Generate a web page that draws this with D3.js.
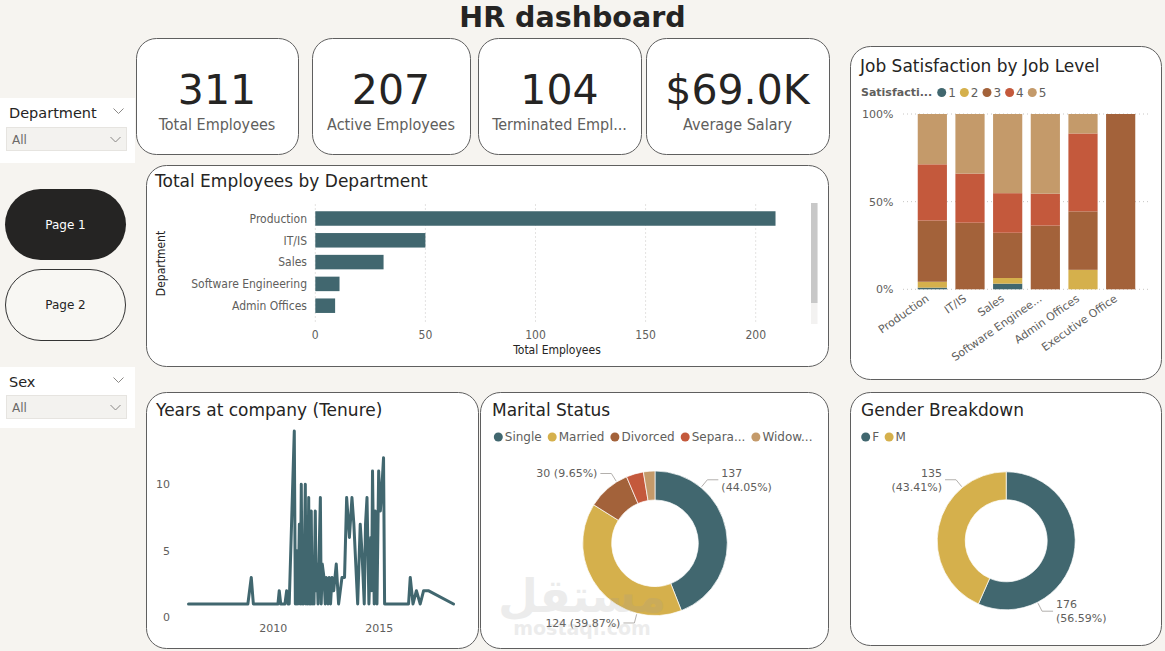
<!DOCTYPE html>
<html>
<head>
<meta charset="utf-8">
<script src="https://cdn.jsdelivr.net/npm/d3@7"></script>
<style>
  html, body { margin: 0; padding: 0; background: #f6f4f0; }
  svg { display: block; }
  text { font-family: "DejaVu Sans", Verdana, sans-serif; }
</style>
</head>
<body>
<svg id="dash" width="1165" height="651"></svg>
<script>
// ---------- data ----------
var kpiValues = [311, 207, 104, 69000];
var kpiLabels = ["Total Employees", "Active Employees", "Terminated Employees", "Average Salary"];

var departments = ["Production", "IT/IS", "Sales", "Software Engineering", "Admin Offices", "Executive Office"];
var deptCounts = [209, 50, 31, 11, 9, 1];

var satisfactionLevels = ["1", "2", "3", "4", "5"];
// employees per satisfaction level, one row per department
var satByDept = [
  [2, 7, 73, 67, 60],
  [0, 0, 19, 14, 17],
  [1, 1, 8, 7, 14],
  [0, 0, 4, 2, 5],
  [0, 1, 3, 4, 1],
  [0, 0, 1, 0, 0]
];

var hireYear = [
  2006.00, 2008.80, 2008.96, 2009.06, 2010.22, 2010.28, 2010.35, 2010.55, 2010.63, 2010.70,
  2010.75, 2010.99, 2011.04, 2011.08, 2011.10, 2011.12, 2011.16, 2011.20, 2011.23, 2011.27,
  2011.30, 2011.32, 2011.36, 2011.39, 2011.42, 2011.46, 2011.51, 2011.54, 2011.56, 2011.59,
  2011.62, 2011.67, 2011.70, 2011.73, 2011.76, 2011.79, 2011.83, 2011.87, 2011.92, 2011.98,
  2012.02, 2012.06, 2012.11, 2012.22, 2012.26, 2012.31, 2012.39, 2012.45, 2012.50, 2012.58,
  2012.64, 2012.70, 2012.77, 2012.85, 2012.97, 2013.08, 2013.24, 2013.36, 2013.46, 2013.59,
  2013.71, 2013.80, 2013.98, 2014.10, 2014.18, 2014.29, 2014.35, 2014.42, 2014.51, 2014.60,
  2014.64, 2014.68, 2014.76, 2014.81, 2014.85, 2014.89, 2014.97, 2015.05, 2015.13, 2015.20,
  2015.25, 2016.38, 2016.46, 2016.59, 2016.75, 2016.93, 2017.09, 2017.31, 2018.50
];
var tenure = [
  1, 1, 3, 1, 1, 2, 1, 1, 2, 1,
  1, 14, 1, 4, 1, 5, 1, 4, 7, 1,
  6, 10, 1, 5, 1, 4, 10, 1, 3, 4,
  1, 9, 1, 2, 1, 8, 1, 2, 1, 8,
  2, 4, 1, 9, 1, 4, 3, 1, 3, 1,
  3, 1, 3, 2, 4, 1, 3, 3, 9, 6,
  9, 7, 1, 7, 5, 1, 7, 9, 1, 6,
  2, 11, 1, 8, 3, 1, 11, 8, 10, 12,
  1, 1, 3, 1, 2, 1, 2, 2, 1
];

var maritalStatus = ["Single", "Married", "Divorced", "Separated", "Widowed"];
var maritalCounts = [137, 124, 30, 12, 8];

var genders = ["F", "M"];
var genderCounts = [176, 135];

// ---------- look ----------
var teal = "#41676f", gold = "#d5b04c", brown = "#a3623a", red = "#c4593c", tan = "#c49a6a";
var dark = "#252423", grey = "#605e5c", gridC = "#c8c6c4", border = "#5f5f5f";
var COND = "'DejaVu Sans Condensed', 'DejaVu Sans', sans-serif";
var palette = [teal, gold, brown, red, tan];

var svg = d3.select("#dash");

function card(x, y, w, h, r) {
  svg.append("rect")
    .attr("x", x + 0.5).attr("y", y + 0.5)
    .attr("width", w).attr("height", h)
    .attr("rx", r).attr("ry", r)
    .attr("fill", "#fff").attr("stroke", border);
}

function title(x, y, t) {
  svg.append("text").attr("x", x).attr("y", y).attr("dy", "0.36em")
    .attr("font-size", 17).attr("fill", dark).text(t);
}

// cut a label down with "..." until it fits
function fitText(node, maxW) {
  var s = node.textContent;
  if (node.getComputedTextLength() <= maxW) return;
  while (s.length > 1) {
    s = s.slice(0, -1);
    node.textContent = s + "...";
    if (node.getComputedTextLength() <= maxW) break;
  }
}

function chevron(x, y) {
  svg.append("path")
    .attr("d", "M" + (x - 5) + "," + (y - 2.5) + "L" + x + "," + (y + 2.5) + "L" + (x + 5) + "," + (y - 2.5))
    .attr("fill", "none").attr("stroke", "#8a8886").attr("stroke-width", 1);
}

// legend row: dots + labels, laid out left to right
function legend(x, y, names, colors, gap, maxW) {
  var cx = x;
  names.forEach(function (n, i) {
    svg.append("circle").attr("cx", cx).attr("cy", y).attr("r", 4.5).attr("fill", colors[i]);
    var t = svg.append("text").attr("x", cx + 6.5).attr("y", y).attr("dy", "0.36em")
      .attr("font-size", 12).attr("fill", grey).text(n);
    if (maxW) fitText(t.node(), maxW);
    cx = cx + 6.5 + t.node().getComputedTextLength() + gap;
  });
}

// ---------- header ----------
svg.append("text").attr("x", 572.5).attr("y", 17).attr("dy", "0.36em")
  .attr("text-anchor", "middle").attr("font-size", 28.5).attr("font-weight", "bold")
  .attr("fill", dark).text("HR dashboard");

// ---------- slicers + page buttons ----------
function slicer(y, h, label, boxY) {
  svg.append("rect").attr("x", 0).attr("y", y).attr("width", 135).attr("height", h).attr("fill", "#fff");
  svg.append("text").attr("x", 9).attr("y", y + 15).attr("dy", "0.36em")
    .attr("font-size", 14.5).attr("fill", dark).text(label);
  chevron(118.5, y + 13);
  svg.append("rect").attr("x", 6.5).attr("y", boxY + 0.5).attr("width", 120).attr("height", 23)
    .attr("fill", "#f3f2ef").attr("stroke", "#e6e4e0");
  svg.append("text").attr("x", 12).attr("y", boxY + 12.5).attr("dy", "0.36em")
    .attr("font-size", 12).attr("fill", "#6b6a68").text("All");
  chevron(115.5, boxY + 12.5);
}
slicer(98, 65, "Department", 127);
slicer(367, 61, "Sex", 395);

svg.append("rect").attr("x", 5).attr("y", 189).attr("width", 121).attr("height", 71)
  .attr("rx", 35.5).attr("fill", dark);
svg.append("text").attr("x", 65.5).attr("y", 225).attr("dy", "0.36em").attr("text-anchor", "middle")
  .attr("font-size", 12).attr("fill", "#fff").text("Page 1");
svg.append("rect").attr("x", 5.5).attr("y", 269.5).attr("width", 120).attr("height", 71)
  .attr("rx", 35.5).attr("fill", "#f8f7f3").attr("stroke", "#333");
svg.append("text").attr("x", 65.5).attr("y", 305).attr("dy", "0.36em").attr("text-anchor", "middle")
  .attr("font-size", 12).attr("fill", dark).text("Page 2");

// ---------- KPI cards ----------
var kpiBoxes = [[136, 38, 162], [312, 38, 158], [478, 38, 163], [646, 38, 183]];
var kpiFormat = [d3.format("d"), d3.format("d"), d3.format("d"),
  function (v) { return "$" + (v / 1000).toFixed(1) + "K"; }];
kpiBoxes.forEach(function (b, i) {
  card(b[0], b[1], b[2], 116, 20);
  svg.append("text").attr("x", b[0] + b[2] / 2).attr("y", 104)
    .attr("text-anchor", "middle").attr("font-size", 41).attr("fill", dark)
    .text(kpiFormat[i](kpiValues[i]));
  var lab = svg.append("text").attr("x", b[0] + b[2] / 2).attr("y", 130)
    .attr("text-anchor", "middle").attr("font-size", 16).attr("fill", grey)
    .style("font-family", COND).text(kpiLabels[i]);
  fitText(lab.node(), b[2] - 24);
});

// ---------- Total Employees by Department ----------
card(146, 165, 682, 201, 20);
title(155, 181, "Total Employees by Department");

var bx = d3.scaleLinear().domain([0, 200]).range([315.3, 755.7]);
var by = d3.scaleBand().domain(departments)
  .range([207.6, 207.6 + 21.8 * departments.length])
  .paddingInner(0.335).paddingOuter(0.1675);

svg.append("clipPath").attr("id", "barClip")
  .append("rect").attr("x", 146).attr("y", 200).attr("width", 660).attr("height", 118);

var barG = svg.append("g");
barG.selectAll("line.grid").data(bx.ticks(4)).enter().append("line")
  .attr("x1", function (d) { return bx(d); }).attr("x2", function (d) { return bx(d); })
  .attr("y1", 204.5).attr("y2", 321.5)
  .attr("stroke", gridC).attr("stroke-dasharray", "1,3");
barG.selectAll("text.tick").data(bx.ticks(4)).enter().append("text")
  .attr("x", function (d) { return bx(d); }).attr("y", 334.5).attr("dy", "0.36em")
  .attr("text-anchor", "middle").attr("font-size", 12).attr("fill", grey)
  .style("font-family", COND).text(function (d) { return d; });

var barClipG = svg.append("g").attr("clip-path", "url(#barClip)");
barClipG.selectAll("rect").data(departments).enter().append("rect")
  .attr("x", bx(0)).attr("y", function (d) { return by(d); })
  .attr("width", function (d, i) { return bx(deptCounts[i]) - bx(0); })
  .attr("height", by.bandwidth()).attr("fill", teal);
barClipG.selectAll("text").data(departments).enter().append("text")
  .attr("x", 307).attr("y", function (d) { return by(d) + by.bandwidth() / 2; }).attr("dy", "0.36em")
  .attr("text-anchor", "end").attr("font-size", 12).attr("fill", grey)
  .style("font-family", COND).text(function (d) { return d; });

svg.append("text").attr("x", 557).attr("y", 349.5).attr("dy", "0.36em")
  .attr("text-anchor", "middle").attr("font-size", 12).attr("fill", dark)
  .style("font-family", COND).text("Total Employees");
svg.append("text").attr("transform", "translate(160.5,263.5) rotate(-90)").attr("dy", "0.36em")
  .attr("text-anchor", "middle").attr("font-size", 12).attr("fill", dark)
  .style("font-family", COND).text("Department");

// scroll bar
svg.append("rect").attr("x", 811).attr("y", 203).attr("width", 6.5).attr("height", 121).attr("fill", "#f3f2f1");
svg.append("rect").attr("x", 811).attr("y", 203).attr("width", 6.5).attr("height", 100).attr("fill", "#c8c8c8");

// ---------- Job Satisfaction by Job Level ----------
card(850, 46, 1161 - 850, 333, 20);
title(860, 65.5, "Job Satisfaction by Job Level");

var lt = svg.append("text").attr("x", 861).attr("y", 92.5).attr("dy", "0.36em")
  .attr("font-size", 11).attr("font-weight", "bold").attr("fill", grey).text("Satisfaction");
fitText(lt.node(), 72.5);
legend(941.7, 92.5, satisfactionLevels, palette, 8.5);

var jx = d3.scaleBand().domain(departments).range([913.5, 1139.5])
  .paddingInner(0.225).paddingOuter(0.1125);
var jy = d3.scaleLinear().domain([0, 1]).range([289.3, 114]);

svg.selectAll("line.jgrid").data([0, 0.5, 1]).enter().append("line")
  .attr("x1", 903).attr("x2", 1150)
  .attr("y1", function (d) { return jy(d); }).attr("y2", function (d) { return jy(d); })
  .attr("stroke", gridC).attr("stroke-dasharray", "1,3");
svg.selectAll("text.jtick").data([0, 0.5, 1]).enter().append("text")
  .attr("x", 893.5).attr("y", function (d) { return jy(d); }).attr("dy", "0.36em")
  .attr("text-anchor", "end").attr("font-size", 11).attr("fill", grey)
  .text(d3.format(".0%"));

var satRows = departments.map(function (d, i) { return { dept: d, values: satByDept[i] }; });
var series = d3.stack()
  .keys(d3.range(satisfactionLevels.length))
  .value(function (d, k) { return d.values[k]; })
  .offset(d3.stackOffsetExpand)(satRows);

svg.append("g").selectAll("g").data(series).enter().append("g")
  .attr("fill", function (s) { return palette[s.key]; })
  .selectAll("rect").data(function (s) { return s; }).enter().append("rect")
  .attr("x", function (d) { return jx(d.data.dept); })
  .attr("y", function (d) { return jy(d[1]); })
  .attr("width", jx.bandwidth())
  .attr("height", function (d) { return jy(d[0]) - jy(d[1]); });

svg.selectAll("text.jx").data(departments).enter().append("text")
  .attr("transform", function (d) {
    return "translate(" + (jx(d) + jx.bandwidth() / 2 - 5) + ",297) rotate(-35)";
  })
  .attr("dy", "0.36em").attr("text-anchor", "end")
  .attr("font-size", 11).attr("fill", grey)
  .text(function (d) { return d; })
  .each(function () { fitText(this, 110); });

// ---------- Years at company (Tenure) ----------
card(146, 392, 332, 256, 20);
title(156, 410, "Years at company (Tenure)");

var tx = d3.scaleLinear().domain([2010, 2015]).range([273.3, 379.3]);
var ty = d3.scaleLinear().domain([0, 10]).range([617.3, 484.3]);

svg.selectAll("text.ty").data([0, 5, 10]).enter().append("text")
  .attr("x", 170).attr("y", function (d) { return ty(d); }).attr("dy", "0.36em")
  .attr("text-anchor", "end").attr("font-size", 11).attr("fill", grey).text(function (d) { return d; });
svg.selectAll("text.tx").data([2010, 2015]).enter().append("text")
  .attr("x", function (d) { return tx(d); }).attr("y", 628.5).attr("dy", "0.36em")
  .attr("text-anchor", "middle").attr("font-size", 11).attr("fill", grey).text(function (d) { return d; });

var tenureLine = d3.line()
  .x(function (d, i) { return tx(hireYear[i]); })
  .y(function (d) { return ty(d); });
svg.append("path").datum(tenure)
  .attr("d", tenureLine)
  .attr("fill", "none").attr("stroke", teal).attr("stroke-width", 3)
  .attr("stroke-linejoin", "round").attr("stroke-linecap", "round");

// ---------- donuts ----------
var pct = d3.format(".2%");
function donut(cx, cy, R, r, values, colors, labelAngle, twoLines) {
  var total = d3.sum(values);
  var arcs = d3.pie().sort(null).value(function (d) { return d; })(values);
  var arc = d3.arc().innerRadius(r).outerRadius(R);
  var g = svg.append("g").attr("transform", "translate(" + cx + "," + cy + ")");
  g.selectAll("path").data(arcs).enter().append("path")
    .attr("d", arc)
    .attr("fill", function (d, i) { return colors[i]; })
    .attr("stroke", "#fff").attr("stroke-width", 0.7);

  function pt(a, rad) {
    var t = a * Math.PI / 180;
    return [rad * Math.sin(t), -rad * Math.cos(t)];
  }
  values.forEach(function (v, i) {
    var a = labelAngle[i];
    if (a == null) return;
    var right = Math.sin(a * Math.PI / 180) > 0;
    var p0 = pt(a, R + 1), p1 = pt(a, R + 10);
    var p2 = [p1[0] + (right ? 11 : -11), p1[1]];
    g.append("path").attr("d", "M" + p0 + "L" + p1 + "L" + p2)
      .attr("fill", "none").attr("stroke", "#b3b0ad").attr("stroke-width", 1);
    var t = g.append("text").attr("x", p2[0] + (right ? 3 : -3)).attr("y", p1[1])
      .attr("text-anchor", right ? "start" : "end")
      .attr("font-size", 11).attr("fill", grey);
    var share = "(" + pct(v / total) + ")";
    if (twoLines[i]) {
      t.append("tspan").attr("x", p2[0] + (right ? 3 : -3)).attr("dy", "-0.28em").text(v);
      t.append("tspan").attr("x", p2[0] + (right ? 3 : -3)).attr("dy", "1.28em").text(share);
    } else {
      t.attr("dy", "0.36em").text(v + " " + share);
    }
  });
}

// Marital Status
card(480, 392, 348, 256, 20);
title(492, 410, "Marital Status");
legend(498.3, 437, maritalStatus, palette, 10.5, 54.5);
donut(655, 543.3, 72.3, 43.3, maritalCounts, palette,
  [39.5, 194.5, 328, null, null], [true, false, false, false, false]);

// Gender Breakdown
card(850, 392, 311, 253, 20);
title(861, 410, "Gender Breakdown");
legend(865.7, 437, genders, [teal, gold], 10);
donut(1006.2, 540.8, 69, 41, genderCounts, [teal, gold],
  [153, 320.6], [true, true]);

// watermark
svg.append("text").attr("x", 582).attr("y", 595).attr("dy", "0.36em").attr("text-anchor", "middle")
  .attr("font-size", 46).attr("font-weight", "bold").attr("fill", "#9a9a9a").attr("opacity", 0.18)
  .text("مستقل");
svg.append("text").attr("x", 582).attr("y", 628).attr("dy", "0.36em").attr("text-anchor", "middle")
  .attr("font-size", 19).attr("font-weight", "bold").attr("fill", "#9a9a9a").attr("opacity", 0.18)
  .text("mostaql.com");
</script>
</body>
</html>
